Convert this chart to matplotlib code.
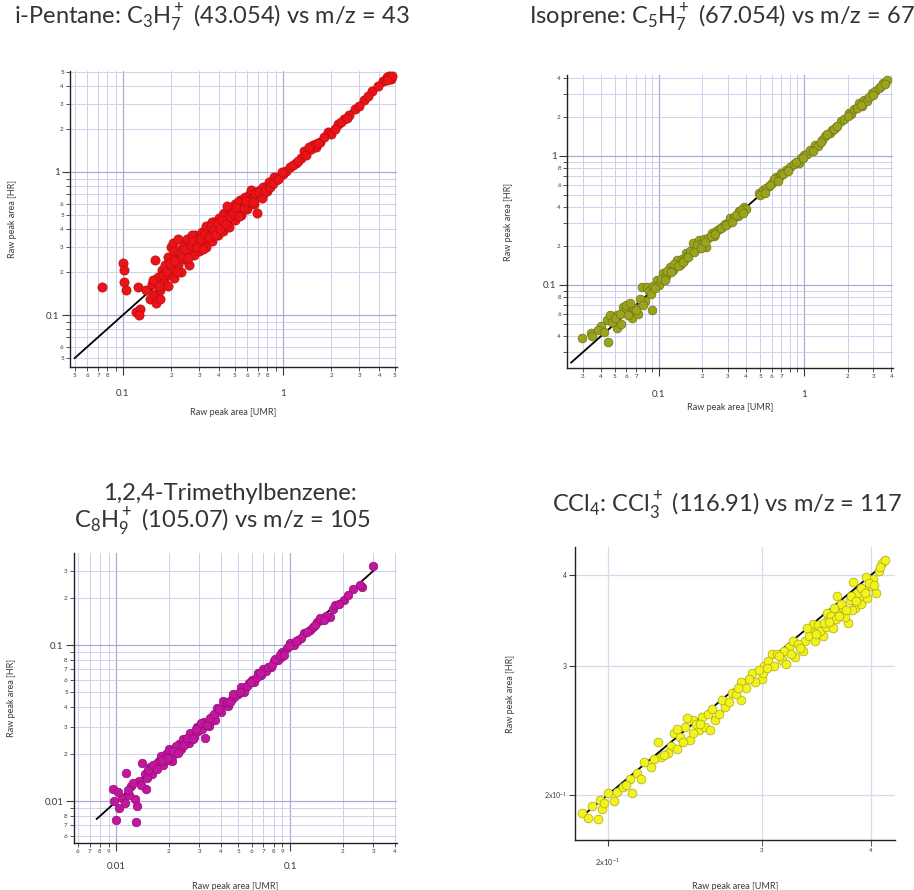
import matplotlib
matplotlib.use("Agg")
import math
import matplotlib.pyplot as plt
from matplotlib.ticker import LogLocator, FuncFormatter, FixedLocator, FixedFormatter, NullLocator

plt.rcParams['font.family'] = ['Lato', 'DejaVu Sans']
plt.rcParams['mathtext.fontset'] = 'custom'
plt.rcParams['mathtext.rm'] = 'Lato'

# ---- data (UMR on x, HR on y) ----
pentane_umr = [0.074, 0.100, 0.101, 0.102, 0.104, 0.124, 0.120, 0.128, 0.126, 0.140,
               0.148, 0.152, 0.156, 0.160, 0.165, 0.158, 0.170, 0.175, 0.180, 0.182,
               0.190, 0.192, 0.200, 0.200, 0.205, 0.210, 0.215, 0.220, 0.222, 0.230,
               0.240, 0.242, 0.250, 0.260, 0.262, 0.270, 0.280, 0.282, 0.295, 0.300,
               0.310, 0.320, 0.330, 0.340, 0.350, 0.360, 0.370, 0.380, 0.390, 0.400,
               0.410, 0.420, 0.430, 0.450, 0.460, 0.470, 0.480, 0.500, 0.500, 0.520,
               0.540, 0.550, 0.560, 0.580, 0.600, 0.610, 0.620, 0.640, 0.660, 0.680,
               0.690, 0.700, 0.720, 0.750, 0.780, 0.800, 0.850, 0.900, 0.950, 1.000,
               1.050, 1.100, 1.200, 1.300, 1.350, 1.400, 1.500, 1.550, 1.600, 1.700,
               1.900, 2.000, 2.200, 2.400, 2.600, 2.800, 3.200, 3.600, 4.200, 4.450,
               4.600, 4.750, 4.800, 0.330, 0.360, 0.420, 0.450, 0.520, 0.580, 0.630,
               0.660, 0.750, 0.820, 0.250, 0.270, 0.230, 0.190, 0.170, 0.210, 1.150,
               1.250, 0.880, 1.450,
               0.155, 0.168, 0.178, 0.186, 0.196, 0.208, 0.218, 0.226, 0.235, 0.245,
               0.255, 0.265, 0.275, 0.290, 0.305, 0.315, 0.325, 0.345, 0.355, 0.365,
               0.375, 0.395, 0.405, 0.415, 0.440, 0.465, 0.490, 0.510, 0.530, 0.570,
               0.590, 0.650, 0.670, 0.710, 0.740, 0.770, 0.830, 0.870, 0.930, 0.980,
               1.600, 1.650, 1.800, 2.100, 2.300, 2.500, 3.000, 3.400, 3.900, 4.500]
pentane_hr = [0.157, 0.230, 0.205, 0.170, 0.150, 0.157, 0.105, 0.110, 0.100, 0.150,
              0.130, 0.165, 0.140, 0.122, 0.185, 0.242, 0.150, 0.205, 0.170, 0.225,
              0.190, 0.255, 0.212, 0.300, 0.320, 0.180, 0.262, 0.340, 0.225, 0.290,
              0.245, 0.310, 0.272, 0.222, 0.330, 0.292, 0.262, 0.360, 0.312, 0.280,
              0.380, 0.335, 0.300, 0.400, 0.362, 0.330, 0.450, 0.405, 0.360, 0.480,
              0.425, 0.385, 0.520, 0.455, 0.410, 0.555, 0.500, 0.460, 0.600, 0.535,
              0.640, 0.500, 0.580, 0.670, 0.550, 0.620, 0.700, 0.650, 0.600, 0.720,
              0.520, 0.680, 0.750, 0.700, 0.780, 0.740, 0.820, 0.880, 0.920, 0.970,
              1.020, 1.080, 1.150, 1.250, 1.400, 1.320, 1.450, 1.550, 1.500, 1.620,
              1.900, 1.850, 2.150, 2.350, 2.500, 2.750, 3.200, 3.700, 4.300, 4.600,
              4.650, 4.500, 4.700, 0.420, 0.450, 0.500, 0.580, 0.620, 0.600, 0.750,
              0.680, 0.780, 0.850, 0.340, 0.360, 0.200, 0.160, 0.130, 0.280, 1.120,
              1.200, 0.920, 1.500,
              0.175, 0.160, 0.190, 0.200, 0.230, 0.240, 0.200, 0.270, 0.260, 0.290,
              0.250, 0.310, 0.330, 0.300, 0.340, 0.290, 0.370, 0.350, 0.420, 0.390,
              0.360, 0.440, 0.400, 0.460, 0.430, 0.490, 0.520, 0.570, 0.490, 0.560,
              0.630, 0.620, 0.710, 0.730, 0.660, 0.740, 0.790, 0.840, 0.900, 1.000,
              1.580, 1.600, 1.750, 2.000, 2.250, 2.400, 2.900, 3.400, 4.000, 4.400]

isoprene_umr = [0.0297, 0.0342, 0.0447, 0.0440, 0.0460, 0.0516, 0.0567, 0.0630, 0.0660, 0.0765,
                0.0896, 0.0765, 0.0830, 0.0970, 0.107, 0.119, 0.133, 0.155, 0.171, 0.191,
                0.213, 0.234, 0.274, 0.321, 0.376, 0.388, 0.490, 0.575, 0.640, 0.750,
                0.920, 1.130, 1.330, 1.650, 2.030, 2.380, 2.930, 3.500,
                0.040, 0.048, 0.052, 0.055, 0.058, 0.060, 0.068, 0.072, 0.080, 0.086,
                0.092, 0.100, 0.104, 0.112, 0.115, 0.125, 0.128, 0.140, 0.145, 0.150,
                0.160, 0.165, 0.180, 0.185, 0.200, 0.205, 0.220, 0.240, 0.250, 0.260,
                0.285, 0.300, 0.310, 0.330, 0.350, 0.360, 0.400, 0.520, 0.550, 0.600,
                0.620, 0.680, 0.700, 0.800, 0.850, 0.950, 1.000, 1.050, 1.200, 1.250,
                1.400, 1.500, 1.550, 1.800, 1.900, 2.100, 2.200, 2.500, 2.600, 2.700,
                3.100, 3.300, 3.700,
                0.035, 0.038, 0.042, 0.050, 0.054, 0.062, 0.064, 0.070, 0.074, 0.078,
                0.088, 0.095, 0.110, 0.122, 0.135, 0.148, 0.158, 0.175, 0.195, 0.210,
                0.230, 0.245, 0.270, 0.290, 0.320, 0.340, 0.370, 0.380, 0.500, 0.540,
                0.580, 0.660, 0.720, 0.780, 0.880, 0.980, 1.100, 1.150, 1.300, 1.450,
                1.600, 1.700, 2.000, 2.300, 2.450, 2.800, 3.000, 3.400, 3.600]
isoprene_hr = [0.0388, 0.0425, 0.0362, 0.0535, 0.0585, 0.0464, 0.0675, 0.0618, 0.0555, 0.0738,
               0.0640, 0.0965, 0.0965, 0.109, 0.124, 0.138, 0.156, 0.177, 0.212, 0.223,
               0.197, 0.253, 0.281, 0.319, 0.360, 0.400, 0.517, 0.580, 0.690, 0.780,
               0.880, 1.110, 1.330, 1.670, 2.150, 2.580, 3.100, 3.700,
               0.048, 0.052, 0.058, 0.050, 0.062, 0.070, 0.066, 0.060, 0.075, 0.090,
               0.098, 0.100, 0.112, 0.118, 0.128, 0.130, 0.145, 0.142, 0.160, 0.155,
               0.170, 0.182, 0.190, 0.205, 0.210, 0.225, 0.230, 0.240, 0.262, 0.270,
               0.295, 0.300, 0.330, 0.335, 0.345, 0.375, 0.385, 0.540, 0.560, 0.620,
               0.660, 0.700, 0.740, 0.820, 0.860, 0.960, 1.020, 1.040, 1.220, 1.200,
               1.420, 1.500, 1.600, 1.850, 1.950, 2.100, 2.300, 2.450, 2.700, 2.650,
               3.200, 3.350, 3.850,
               0.040, 0.045, 0.043, 0.055, 0.060, 0.058, 0.072, 0.064, 0.078, 0.070,
               0.085, 0.094, 0.110, 0.125, 0.140, 0.150, 0.165, 0.180, 0.195, 0.215,
               0.240, 0.250, 0.275, 0.290, 0.310, 0.350, 0.380, 0.360, 0.500, 0.520,
               0.600, 0.640, 0.720, 0.760, 0.900, 0.970, 1.120, 1.100, 1.280, 1.480,
               1.620, 1.720, 2.050, 2.350, 2.500, 2.850, 2.950, 3.500, 3.600]

tmb_umr = [0.0095, 0.0097, 0.0100, 0.0104, 0.0114, 0.0130, 0.0127, 0.0131, 0.0148, 0.0140,
           0.0160, 0.0176, 0.0192, 0.0208, 0.0228, 0.0250, 0.0270, 0.0296, 0.0324, 0.0351,
           0.0380, 0.0420, 0.0500, 0.0550, 0.0650, 0.0770, 0.0880, 0.1000, 0.1200, 0.1420,
           0.1690, 0.2040, 0.2570, 0.3000,
           0.0108, 0.0112, 0.0118, 0.0122, 0.0135, 0.0145, 0.0150, 0.0155, 0.0165, 0.0170,
           0.0180, 0.0185, 0.0195, 0.0200, 0.0215, 0.0220, 0.0235, 0.0240, 0.0260, 0.0265,
           0.0280, 0.0290, 0.0310, 0.0320, 0.0340, 0.0360, 0.0370, 0.0400, 0.0410, 0.0440,
           0.0460, 0.0480, 0.0520, 0.0540, 0.0580, 0.0600, 0.0620, 0.0680, 0.0700, 0.0720,
           0.0800, 0.0850, 0.0900, 0.0950, 0.1050, 0.1100, 0.1150, 0.1300, 0.1350, 0.1500,
           0.1600, 0.1750, 0.2300,
           0.0102, 0.0116, 0.0125, 0.0138, 0.0152, 0.0162, 0.0172, 0.0182, 0.0198, 0.0212,
           0.0225, 0.0245, 0.0255, 0.0275, 0.0285, 0.0305, 0.0330, 0.0345, 0.0365, 0.0390,
           0.0430, 0.0450, 0.0470, 0.0510, 0.0560, 0.0590, 0.0640, 0.0670, 0.0740, 0.0780,
           0.0820, 0.0870, 0.0920, 0.0980, 0.1080, 0.1250, 0.1380, 0.1480, 0.1550, 0.1800,
           0.1900, 0.2150, 0.2500]
tmb_hr = [0.0120, 0.0100, 0.0076, 0.0090, 0.0152, 0.0074, 0.0103, 0.0093, 0.0120, 0.0176,
          0.0149, 0.0181, 0.0201, 0.0181, 0.0233, 0.0244, 0.0270, 0.0283, 0.0255, 0.0328,
          0.0398, 0.0420, 0.0490, 0.0530, 0.0660, 0.0720, 0.0840, 0.1030, 0.1190, 0.1400,
          0.1520, 0.1950, 0.2370, 0.3200,
          0.0105, 0.0098, 0.0110, 0.0125, 0.0135, 0.0150, 0.0140, 0.0165, 0.0160, 0.0175,
          0.0195, 0.0170, 0.0185, 0.0215, 0.0200, 0.0225, 0.0215, 0.0250, 0.0235, 0.0275,
          0.0260, 0.0300, 0.0290, 0.0320, 0.0305, 0.0350, 0.0330, 0.0375, 0.0440, 0.0410,
          0.0450, 0.0470, 0.0540, 0.0500, 0.0570, 0.0600, 0.0580, 0.0640, 0.0700, 0.0680,
          0.0790, 0.0800, 0.0900, 0.0960, 0.1000, 0.1080, 0.1120, 0.1250, 0.1300, 0.1450,
          0.1550, 0.1700, 0.2280,
          0.0115, 0.0118, 0.0130, 0.0128, 0.0158, 0.0170, 0.0160, 0.0185, 0.0190, 0.0210,
          0.0205, 0.0230, 0.0255, 0.0250, 0.0290, 0.0315, 0.0310, 0.0340, 0.0365, 0.0390,
          0.0430, 0.0430, 0.0490, 0.0500, 0.0550, 0.0580, 0.0630, 0.0660, 0.0730, 0.0750,
          0.0820, 0.0860, 0.0870, 0.0990, 0.1060, 0.1220, 0.1350, 0.1500, 0.1450, 0.1800,
          0.1850, 0.2100, 0.2450]

ccl4_umr = [0.187, 0.195, 0.197, 0.196, 0.200, 0.205, 0.213, 0.212, 0.216, 0.224,
            0.230, 0.228, 0.236, 0.240, 0.238, 0.245, 0.250, 0.254, 0.256, 0.265,
            0.272, 0.277, 0.284, 0.284, 0.292, 0.300, 0.302, 0.308, 0.316, 0.322,
            0.327, 0.336, 0.343, 0.352, 0.357, 0.367, 0.376, 0.383, 0.366, 0.381,
            0.388, 0.399, 0.412, 0.356, 0.371, 0.343, 0.326, 0.312, 0.301,
            0.242, 0.248, 0.252, 0.258, 0.260, 0.262, 0.268, 0.246, 0.234, 0.220,
            0.208, 0.192, 0.203, 0.280, 0.288, 0.295, 0.305, 0.310, 0.318, 0.320,
            0.330, 0.334, 0.340, 0.345, 0.348, 0.350, 0.355, 0.360, 0.362, 0.365,
            0.370, 0.373, 0.378, 0.380, 0.385, 0.390, 0.393, 0.396, 0.402, 0.405,
            0.395, 0.408, 0.415,
            0.190, 0.198, 0.210, 0.218, 0.226, 0.232, 0.240, 0.244, 0.250, 0.255,
            0.263, 0.270, 0.275, 0.282, 0.290, 0.298, 0.304, 0.314, 0.324, 0.332,
            0.338, 0.346, 0.353, 0.358, 0.363, 0.368, 0.374, 0.379, 0.384, 0.389,
            0.394, 0.398, 0.403, 0.410]
ccl4_hr = [0.189, 0.185, 0.191, 0.197, 0.201, 0.202, 0.201, 0.210, 0.214, 0.218,
           0.225, 0.236, 0.233, 0.231, 0.243, 0.248, 0.253, 0.245, 0.256, 0.253,
           0.264, 0.276, 0.270, 0.285, 0.294, 0.288, 0.300, 0.312, 0.306, 0.319,
           0.309, 0.325, 0.336, 0.330, 0.347, 0.355, 0.344, 0.361, 0.374, 0.391,
           0.374, 0.386, 0.416, 0.355, 0.361, 0.343, 0.325, 0.312, 0.294,
           0.240, 0.238, 0.250, 0.248, 0.258, 0.245, 0.258, 0.255, 0.228, 0.222,
           0.205, 0.193, 0.196, 0.275, 0.280, 0.285, 0.305, 0.300, 0.315, 0.302,
           0.322, 0.315, 0.330, 0.325, 0.342, 0.335, 0.340, 0.352, 0.338, 0.348,
           0.365, 0.350, 0.370, 0.358, 0.378, 0.365, 0.382, 0.372, 0.395, 0.378,
           0.398, 0.405, 0.420,
           0.186, 0.195, 0.206, 0.210, 0.224, 0.227, 0.246, 0.236, 0.243, 0.250,
           0.262, 0.270, 0.268, 0.280, 0.288, 0.296, 0.298, 0.310, 0.312, 0.318,
           0.338, 0.332, 0.344, 0.345, 0.360, 0.352, 0.358, 0.375, 0.368, 0.384,
           0.378, 0.390, 0.388, 0.410]

# 1:1 reference line ends
pentane_line = [0.05, 4.8]
isoprene_line = [0.025, 3.8]
tmb_line = [0.0077, 0.30]
ccl4_line = [0.187, 0.415]

GRID = '#cfd0ee'
GRID_MAJOR = '#a9abd6'
TXT = '#3a3a3a'


def digit_formatter(keep):
    def fmt(v, pos):
        if v <= 0:
            return ''
        d = int(round(v / 10 ** math.floor(math.log10(v) + 1e-9)))
        return str(d) if d in keep else ''
    return FuncFormatter(fmt)


def log_panel(ax, xlim, ylim, xkeep, ykeep):
    ax.set_xscale('log')
    ax.set_yscale('log')
    ax.set_xlim(*xlim)
    ax.set_ylim(*ylim)
    for axis, keep in ((ax.xaxis, xkeep), (ax.yaxis, ykeep)):
        axis.set_major_locator(LogLocator(base=10, numticks=10))
        axis.set_major_formatter(FuncFormatter(lambda v, p: '%g' % v))
        axis.set_minor_locator(LogLocator(base=10, subs=range(2, 10), numticks=30))
        axis.set_minor_formatter(digit_formatter(keep))
    ax.grid(which='minor', color=GRID, lw=0.7)
    ax.grid(which='major', color=GRID_MAJOR, lw=0.9)
    ax.tick_params(axis='x', which='major', length=6, labelsize=7, pad=10, colors=TXT)
    ax.tick_params(axis='x', which='minor', length=3, labelsize=4.5, pad=1.5, colors=TXT)
    ax.tick_params(axis='y', which='major', length=6, labelsize=7, pad=1.5, colors=TXT)
    ax.tick_params(axis='y', which='minor', length=3, labelsize=4.5, pad=1.5, colors=TXT)


def finish(ax, xs, ys, line, face, edge, size, xlab_off, ylab_off):
    ax.plot(line, line, color='black', lw=1.3, zorder=3)
    ax.scatter(xs, ys, s=size, c=face, edgecolors=edge, linewidths=0.5, zorder=4)
    for s in ('top', 'right'):
        ax.spines[s].set_visible(False)
    for s in ('left', 'bottom'):
        ax.spines[s].set_color('#222222')
        ax.spines[s].set_linewidth(1.0)
    ax.set_axisbelow(True)
    ax.set_xlabel('Raw peak area [UMR]', fontsize=6.5, color=TXT)
    ax.set_ylabel('Raw peak area [HR]', fontsize=6.5, color=TXT)
    ax.xaxis.set_label_coords(*xlab_off)
    ax.yaxis.set_label_coords(*ylab_off)


W, H = 914, 890
fig = plt.figure(figsize=(W / 100, H / 100), dpi=100)


def axes_px(left, top, right, bottom):
    return fig.add_axes([left / W, 1 - bottom / H, (right - left) / W, (bottom - top) / H])


ax1 = axes_px(70, 71, 397, 367)
log_panel(ax1, (0.0467, 5.16), (0.0433, 5.08), {2, 3, 4, 5, 6, 7, 8}, {2, 3, 4, 5, 6})
finish(ax1, pentane_umr, pentane_hr, pentane_line, '#e8141a', '#c00a0a', 44,
       (0.5, -41 / 296), (-53 / 327, 0.5))

ax2 = axes_px(567, 75, 893, 368)
log_panel(ax2, (0.0234, 4.1), (0.0227, 4.24), {2, 3, 4, 5, 6, 7}, {2, 4, 6, 8})
finish(ax2, isoprene_umr, isoprene_hr, isoprene_line, '#9aa31c', '#707518', 40,
       (0.5, -35 / 293), (-54 / 326, 0.5))

ax3 = axes_px(74, 553, 397, 843)
log_panel(ax3, (0.0057, 0.41), (0.0054, 0.39), {2, 3, 4, 5, 6, 7, 8, 9}, {2, 3, 4, 5, 6, 7, 8})
ax3.tick_params(axis='x', which='major', pad=8)
finish(ax3, tmb_umr, tmb_hr, tmb_line, '#c2169c', '#960c7a', 38,
       (0.5, -39 / 290), (-58 / 323, 0.5))

ax4 = axes_px(575, 547, 895, 840)
ax4.set_xscale('log')
ax4.set_yscale('log')
ax4.set_xlim(0.1834, 0.426)
ax4.set_ylim(0.1734, 0.437)
ax4.xaxis.set_major_locator(FixedLocator([0.2]))
ax4.xaxis.set_major_formatter(FixedFormatter(['2x10$^{-1}$']))
ax4.xaxis.set_minor_locator(FixedLocator([0.3, 0.4]))
ax4.xaxis.set_minor_formatter(FixedFormatter(['3', '4']))
ax4.yaxis.set_major_locator(FixedLocator([0.2, 0.3, 0.4]))
ax4.yaxis.set_major_formatter(FixedFormatter(['2x10$^{-1}$', '3', '4']))
ax4.yaxis.set_minor_locator(NullLocator())
ax4.grid(which='both', color='#d8d9ec', lw=0.9)
ax4.tick_params(axis='x', which='major', length=4, labelsize=5.5, pad=8, colors=TXT)
ax4.tick_params(axis='x', which='minor', length=4, labelsize=4.5, pad=2, colors=TXT)
ax4.tick_params(axis='y', which='major', length=4, labelsize=5, pad=2, colors=TXT)
finish(ax4, ccl4_umr, ccl4_hr, ccl4_line, '#f2f21c', '#aaaa14', 40,
       (0.5, -42 / 293), (-60 / 320, 0.5))

# titles
def title_px(x, y, s):
    fig.text(x / W, 1 - y / H, s, ha='center', va='center', fontsize=17, color='#333333')


title_px(212, 18, 'i-Pentane: C$_3$H$_7^+$ (43.054) vs m/z = 43')
title_px(722, 18, 'Isoprene: C$_5$H$_7^+$ (67.054) vs m/z = 67')
title_px(230, 493, '1,2,4-Trimethylbenzene:')
title_px(222, 522, 'C$_8$H$_9^+$ (105.07) vs m/z = 105')
title_px(727, 505, 'CCl$_4$: CCl$_3^+$ (116.91) vs m/z = 117')

fig.savefig('out.png', dpi=100, facecolor='white')
